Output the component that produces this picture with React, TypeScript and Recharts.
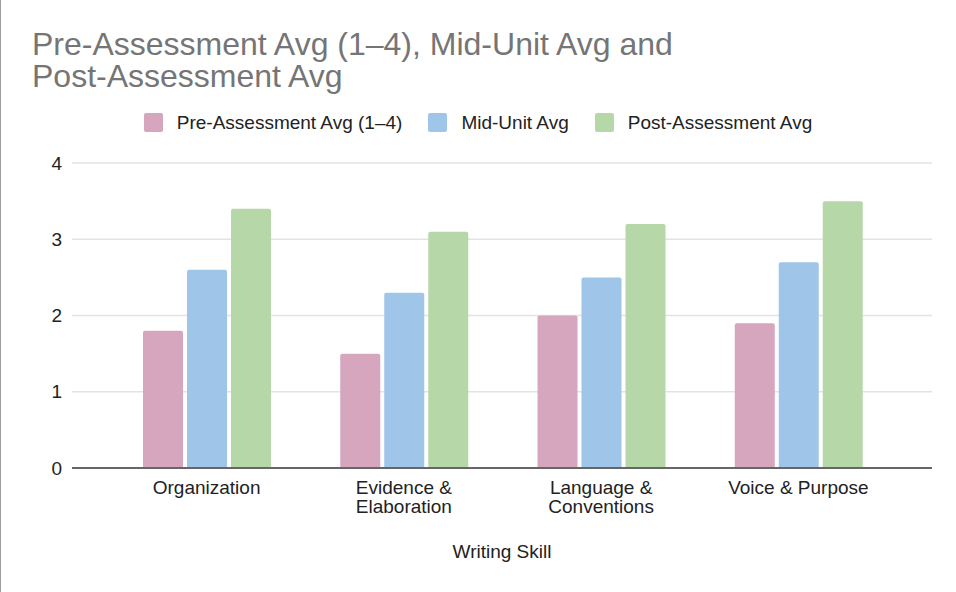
import React from 'react';
import { BarChart, Bar, XAxis, YAxis, CartesianGrid, Legend, Text } from 'recharts';

const categories = ['Organization', 'Evidence & Elaboration', 'Language & Conventions', 'Voice & Purpose'];
const preAvg = [1.8, 1.5, 2.0, 1.9];
const midAvg = [2.6, 2.3, 2.5, 2.7];
const postAvg = [3.4, 3.1, 3.2, 3.5];
const yTicks = [0, 1, 2, 3, 4];
const seriesNames = ['Pre-Assessment Avg (1–4)', 'Mid-Unit Avg', 'Post-Assessment Avg'];
const seriesKeys = ['pre', 'mid', 'post'];
const seriesColors = ['#d5a6bd', '#9fc5e8', '#b6d7a8'];

const FONT = '"Liberation Sans", Arial, Helvetica, sans-serif';

const data = categories.map((skill, i) => ({
  skill,
  pre: preAvg[i],
  mid: midAvg[i],
  post: postAvg[i],
}));

const SkillTick = (props: any) => {
  const { x, y, payload } = props;
  return (
    <Text
      x={x}
      y={y}
      width={150}
      textAnchor="middle"
      verticalAnchor="start"
      fontSize={19}
      fontFamily={FONT}
      fill="#222"
    >
      {payload.value}
    </Text>
  );
};

const renderLegend = () => (
  <div
    style={{
      display: 'flex',
      justifyContent: 'center',
      alignItems: 'center',
      gap: 26,
      fontFamily: FONT,
      fontSize: 19,
      color: '#222',
      height: 19,
    }}
  >
    {seriesNames.map((name, i) => (
      <div key={name} style={{ display: 'flex', alignItems: 'center' }}>
        <span
          style={{
            display: 'inline-block',
            width: 19,
            height: 19,
            background: seriesColors[i],
            borderRadius: 2,
            marginRight: 14,
          }}
        />
        <span>{name}</span>
      </div>
    ))}
  </div>
);

const App: React.FC = () => {
  return (
    <div style={{ position: 'absolute', top: 0, left: 0, width: 956, height: 592, background: '#fff' }}>
      <div
        style={{
          position: 'absolute',
          left: 32,
          top: 28,
          width: 700,
          fontFamily: FONT,
          fontSize: 32,
          lineHeight: '32px',
          color: '#757575',
          zIndex: 1,
        }}
      >
        Pre-Assessment Avg (1–4), Mid-Unit Avg and Post-Assessment Avg
      </div>
      <BarChart
        width={956}
        height={592}
        data={data}
        margin={{ top: 163, right: 24, bottom: 64, left: 0 }}
        barGap={4}
        barCategoryGap={35}
      >
        <CartesianGrid vertical={false} stroke="#e3e3e3" strokeWidth={1.5} />
        <XAxis
          dataKey="skill"
          height={60}
          padding={{ left: 36, right: 35 }}
          tickLine={false}
          tickSize={0}
          tickMargin={12.5}
          axisLine={{ stroke: '#666', strokeWidth: 2 }}
          tick={<SkillTick />}
          interval={0}
          label={{
            value: 'Writing Skill',
            position: 'bottom',
            offset: 17,
            fontSize: 19,
            fontFamily: FONT,
            fill: '#222',
          }}
        />
        <YAxis
          width={72}
          domain={[0, 4]}
          ticks={yTicks}
          tickLine={false}
          axisLine={false}
          tickSize={0}
          tickMargin={10}
          tick={{ fontSize: 19, fontFamily: FONT, fill: '#222' }}
        />
        <Legend
          verticalAlign="middle"
          align="center"
          content={renderLegend}
          wrapperStyle={{ top: 113, left: 0, width: 956 }}
        />
        {seriesKeys.map((key, i) => (
          <Bar
            key={key}
            dataKey={key}
            name={seriesNames[i]}
            fill={seriesColors[i]}
            radius={[2, 2, 0, 0]}
            isAnimationActive={false}
          />
        ))}
      </BarChart>
      <div
        style={{
          position: 'absolute',
          left: 0,
          top: 0,
          width: 1,
          height: 592,
          background: '#9e9e9e',
        }}
      />
    </div>
  );
};

export default App;
